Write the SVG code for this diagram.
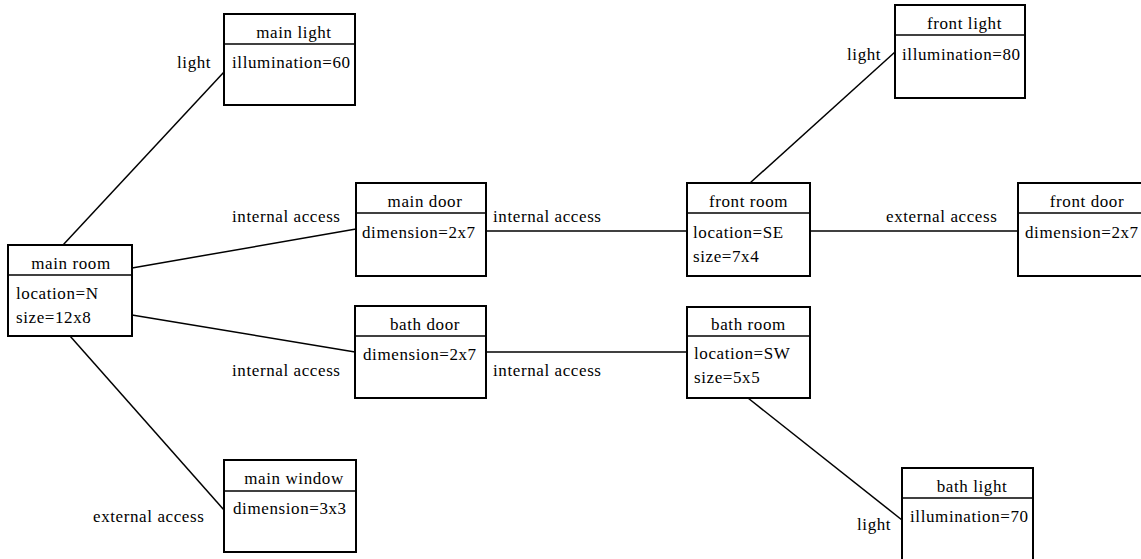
<svg xmlns="http://www.w3.org/2000/svg" width="1141" height="559" viewBox="0 0 1141 559">
<style>
.s{font-family:'Liberation Serif','Times New Roman',serif;font-size:17px;letter-spacing:0.6px;fill:#000}
.t{font-family:'Liberation Serif','Times New Roman',serif;font-size:17px;letter-spacing:0.6px;fill:#000;text-anchor:middle}
.box{fill:#fff;stroke:#000;stroke-width:2}
.hd{stroke:#000;stroke-width:1.5}
.ln{stroke:#000;stroke-width:1.5;fill:none}
</style>
<rect width="1141" height="559" fill="#fff"/>
<g id="connectors">
<line class="ln" x1="63" y1="245" x2="224" y2="72"/>
<line class="ln" x1="132" y1="268" x2="356" y2="229"/>
<line class="ln" x1="132" y1="315" x2="355" y2="352"/>
<line class="ln" x1="70" y1="336" x2="224" y2="510"/>
<line class="ln" x1="486" y1="231" x2="687" y2="231"/>
<line class="ln" x1="810" y1="231" x2="1018" y2="231"/>
<line class="ln" x1="486" y1="352" x2="687" y2="352"/>
<line class="ln" x1="750" y1="183" x2="895" y2="52"/>
<line class="ln" x1="748" y1="398" x2="902" y2="520"/>
<text class="s" x="177" y="68">light</text>
<text class="s" x="232" y="222">internal access</text>
<text class="s" x="232" y="376">internal access</text>
<text class="s" x="93" y="522">external access</text>
<text class="s" x="493" y="222">internal access</text>
<text class="s" x="493" y="376">internal access</text>
<text class="s" x="886" y="222">external access</text>
<text class="s" x="847" y="60">light</text>
<text class="s" x="857" y="530">light</text>
</g>
<g id="main_room">
<rect class="box" x="8" y="245" width="124" height="91"/>
<line class="hd" x1="8" y1="275" x2="132" y2="275"/>
<text class="t" x="71" y="269">main room</text>
<text class="s" x="16" y="299">location=N</text>
<text class="s" x="16" y="323">size=12x8</text>
</g>
<g id="main_light">
<rect class="box" x="224" y="14" width="131" height="91"/>
<line class="hd" x1="224" y1="44" x2="355" y2="44"/>
<text class="t" x="294" y="38">main light</text>
<text class="s" x="232" y="68">illumination=60</text>
</g>
<g id="main_door">
<rect class="box" x="356" y="183" width="130" height="93"/>
<line class="hd" x1="356" y1="213" x2="486" y2="213"/>
<text class="t" x="425" y="207">main door</text>
<text class="s" x="362" y="238">dimension=2x7</text>
</g>
<g id="bath_door">
<rect class="box" x="355" y="306" width="131" height="92"/>
<line class="hd" x1="355" y1="336" x2="486" y2="336"/>
<text class="t" x="425" y="330">bath door</text>
<text class="s" x="363" y="360">dimension=2x7</text>
</g>
<g id="main_window">
<rect class="box" x="224" y="460" width="132" height="92"/>
<line class="hd" x1="224" y1="491" x2="356" y2="491"/>
<text class="t" x="294" y="484">main window</text>
<text class="s" x="233" y="514">dimension=3x3</text>
</g>
<g id="front_room">
<rect class="box" x="687" y="183" width="123" height="93"/>
<line class="hd" x1="687" y1="213" x2="810" y2="213"/>
<text class="t" x="748.5" y="207">front room</text>
<text class="s" x="693" y="238">location=SE</text>
<text class="s" x="693" y="262">size=7x4</text>
</g>
<g id="bath_room">
<rect class="box" x="687" y="307" width="123" height="91"/>
<line class="hd" x1="687" y1="336" x2="810" y2="336"/>
<text class="t" x="748.5" y="330">bath room</text>
<text class="s" x="694" y="359">location=SW</text>
<text class="s" x="694" y="383">size=5x5</text>
</g>
<g id="front_door">
<rect class="box" x="1018" y="183" width="140" height="93"/>
<line class="hd" x1="1018" y1="213" x2="1141" y2="213"/>
<text class="t" x="1087" y="207">front door</text>
<text class="s" x="1025" y="238">dimension=2x7</text>
</g>
<g id="front_light">
<rect class="box" x="895" y="5" width="130" height="93"/>
<line class="hd" x1="895" y1="35" x2="1025" y2="35"/>
<text class="t" x="964.5" y="29">front light</text>
<text class="s" x="902" y="60">illumination=80</text>
</g>
<g id="bath_light">
<rect class="box" x="902" y="468" width="131" height="100"/>
<line class="hd" x1="902" y1="498" x2="1033" y2="498"/>
<text class="t" x="972" y="492">bath light</text>
<text class="s" x="910" y="522">illumination=70</text>
</g>
</svg>
